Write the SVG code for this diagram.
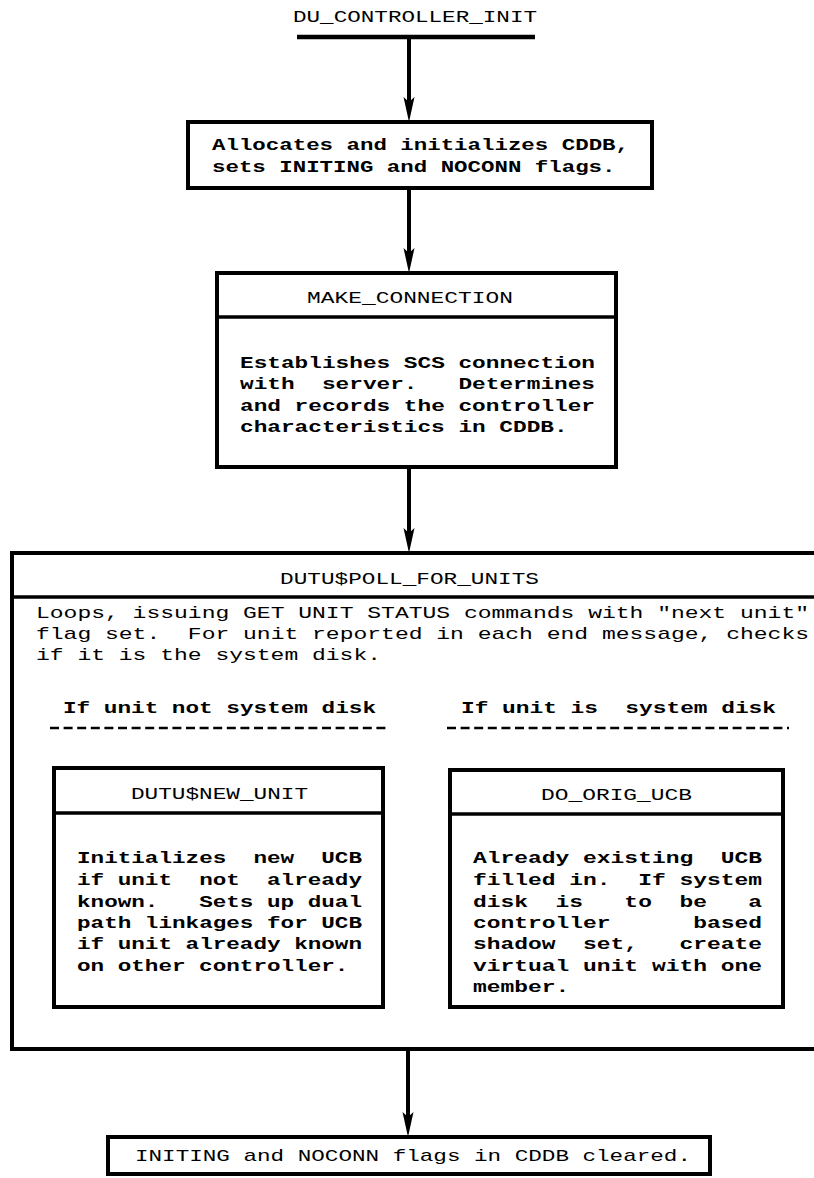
<svg xmlns="http://www.w3.org/2000/svg" width="814" height="1178" viewBox="0 0 814 1178">
  <style>
    text { font-family: "Liberation Mono", "Courier New", monospace; font-size: 17px; fill: #000; white-space: pre; }
    .hd { font-weight: normal; }
    .bd { font-weight: bold; }
    .box { fill: #fff; stroke: #000; stroke-width: 4; }
    .rule { stroke: #000; stroke-width: 3.5; fill: none; }
    .shaft { stroke: #000; stroke-width: 4; fill: none; }
    .dash { stroke: #000; stroke-width: 2.5; stroke-dasharray: 9 4.6; fill: none; }
  </style>
  <defs>
    <polygon id="head" points="0,0 -5.5,-25 0,-20 5.5,-25"/>
  </defs>
  <rect width="814" height="1178" fill="#fff"/>

  <!-- connectors -->
  <g id="connectors">
    <line class="shaft" x1="409" y1="37" x2="409" y2="104"/>
    <use href="#head" x="409" y="122"/>
    <line class="shaft" x1="409" y1="188" x2="409" y2="254"/>
    <use href="#head" x="409" y="273"/>
    <line class="shaft" x1="409" y1="467" x2="409" y2="535"/>
    <use href="#head" x="409" y="553"/>
    <line class="shaft" x1="408" y1="1049" x2="408" y2="1118"/>
    <use href="#head" x="408" y="1137"/>
  </g>

  <!-- entry point -->
  <g id="entry">
    <text class="hd" x="293" y="22" textLength="244" lengthAdjust="spacingAndGlyphs">DU_CONTROLLER_INIT</text>
    <line x1="297" y1="37" x2="535" y2="37" stroke="#000" stroke-width="4.5"/>
  </g>

  <g id="alloc">
    <rect class="box" x="188" y="122" width="464" height="66"/>
    <text class="bd" x="212" y="150" textLength="417" lengthAdjust="spacingAndGlyphs">Allocates and initializes CDDB,</text>
    <text class="bd" x="212" y="172" textLength="403.5" lengthAdjust="spacingAndGlyphs">sets INITING and NOCONN flags.</text>
  </g>

  <g id="make_connection">
    <rect class="box" x="217" y="273" width="399" height="194"/>
    <line class="rule" x1="217" y1="317" x2="616" y2="317"/>
    <text class="hd" x="307" y="303" textLength="206" lengthAdjust="spacingAndGlyphs">MAKE_CONNECTION</text>
    <text class="bd" x="240" y="368" textLength="355" lengthAdjust="spacingAndGlyphs">Establishes SCS connection</text>
    <text class="bd" x="240" y="389" textLength="355" lengthAdjust="spacingAndGlyphs">with  server.   Determines</text>
    <text class="bd" x="240" y="411" textLength="355" lengthAdjust="spacingAndGlyphs">and records the controller</text>
    <text class="bd" x="240" y="432" textLength="327.6" lengthAdjust="spacingAndGlyphs">characteristics in CDDB.</text>
  </g>

  <g id="poll_for_units">
    <rect class="box" x="12" y="553" width="820" height="496"/>
    <line class="rule" x1="12" y1="597" x2="814" y2="597"/>
    <text class="hd" x="280" y="584" textLength="259" lengthAdjust="spacingAndGlyphs">DUTU$POLL_FOR_UNITS</text>
    <text class="hd" x="36" y="618" textLength="773" lengthAdjust="spacingAndGlyphs">Loops, issuing GET UNIT STATUS commands with "next unit"</text>
    <text class="hd" x="36" y="639" textLength="773" lengthAdjust="spacingAndGlyphs">flag set.  For unit reported in each end message, checks</text>
    <text class="hd" x="36" y="660" textLength="345" lengthAdjust="spacingAndGlyphs">if it is the system disk.</text>

    <text class="bd" x="63" y="713" textLength="313" lengthAdjust="spacingAndGlyphs">If unit not system disk</text>
    <line class="dash" x1="50" y1="728" x2="390" y2="728"/>
    <text class="bd" x="461" y="713" textLength="315" lengthAdjust="spacingAndGlyphs">If unit is  system disk</text>
    <line class="dash" x1="447" y1="728" x2="789" y2="728"/>
  </g>

  <g id="new_unit">
    <rect class="box" x="54" y="768" width="329" height="239"/>
    <line class="rule" x1="54" y1="813" x2="383" y2="813"/>
    <text class="hd" x="131" y="799" textLength="177" lengthAdjust="spacingAndGlyphs">DUTU$NEW_UNIT</text>
    <text class="bd" x="77" y="863" textLength="285" lengthAdjust="spacingAndGlyphs">Initializes  new  UCB</text>
    <text class="bd" x="77" y="885" textLength="285" lengthAdjust="spacingAndGlyphs">if unit  not  already</text>
    <text class="bd" x="77" y="907" textLength="285" lengthAdjust="spacingAndGlyphs">known.   Sets up dual</text>
    <text class="bd" x="77" y="928" textLength="285" lengthAdjust="spacingAndGlyphs">path linkages for UCB</text>
    <text class="bd" x="77" y="949" textLength="285" lengthAdjust="spacingAndGlyphs">if unit already known</text>
    <text class="bd" x="77" y="971" textLength="271.4" lengthAdjust="spacingAndGlyphs">on other controller.</text>
  </g>

  <g id="do_orig_ucb">
    <rect class="box" x="450" y="770" width="333" height="237"/>
    <line class="rule" x1="450" y1="814" x2="783" y2="814"/>
    <text class="hd" x="541" y="800" textLength="151" lengthAdjust="spacingAndGlyphs">DO_ORIG_UCB</text>
    <text class="bd" x="473" y="863" textLength="289" lengthAdjust="spacingAndGlyphs">Already existing  UCB</text>
    <text class="bd" x="473" y="885" textLength="289" lengthAdjust="spacingAndGlyphs">filled in.  If system</text>
    <text class="bd" x="473" y="907" textLength="289" lengthAdjust="spacingAndGlyphs">disk  is   to  be   a</text>
    <text class="bd" x="473" y="928" textLength="289" lengthAdjust="spacingAndGlyphs">controller      based</text>
    <text class="bd" x="473" y="949" textLength="289" lengthAdjust="spacingAndGlyphs">shadow  set,   create</text>
    <text class="bd" x="473" y="971" textLength="289" lengthAdjust="spacingAndGlyphs">virtual unit with one</text>
    <text class="bd" x="473" y="992" textLength="96.3" lengthAdjust="spacingAndGlyphs">member.</text>
  </g>

  <g id="flags_cleared">
    <rect class="box" x="108" y="1137" width="602" height="37"/>
    <text class="hd" x="135" y="1161" textLength="556" lengthAdjust="spacingAndGlyphs">INITING and NOCONN flags in CDDB cleared.</text>
  </g>
</svg>
